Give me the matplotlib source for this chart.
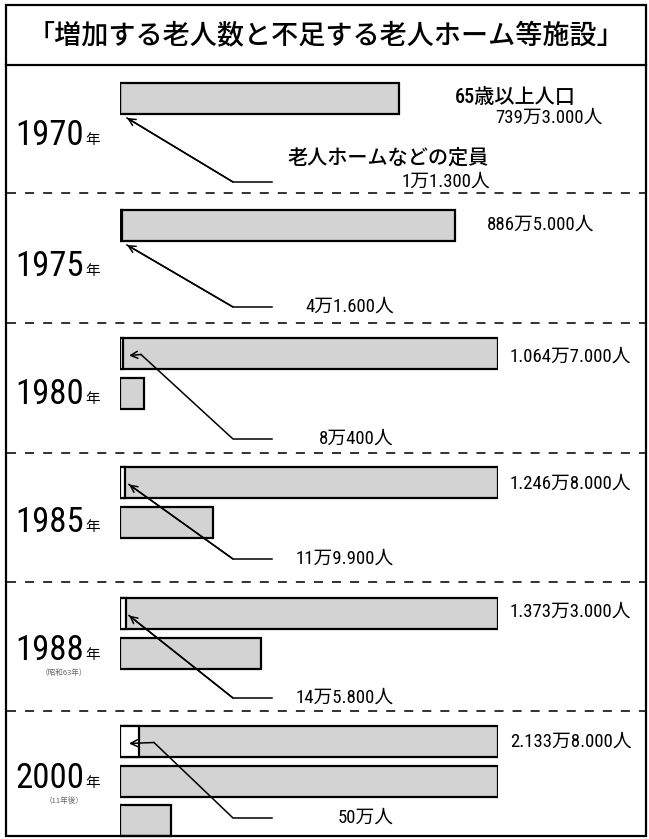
import math
import matplotlib.pyplot as plt
from matplotlib import font_manager
from matplotlib.patches import Rectangle

# data (万人)
years = ['1970', '1975', '1980', '1985', '1988', '2000']
year_notes = ['', '', '', '', '（昭和63年）', '（11年後）']
elderly = [739.3, 886.5, 1064.7, 1246.8, 1373.3, 2133.8]
capacity = [1.13, 4.16, 8.04, 11.99, 14.58, 50.0]
elderly_labels = ['739万3.000人', '886万5.000人', '1.064万7.000人',
                  '1.246万8.000人', '1.373万3.000人', '2.133万8.000人']
capacity_labels = ['1万1.300人', '4万1.600人', '8万400人',
                   '11万9.900人', '14万5.800人', '50万人']
row_max = 1000  # one full bar row = 1000万人

title = '「増加する老人数と不足する老人ホーム等施設」'

# layout (pixels from top)
W, H = 649, 839
bar_x0, bar_x1 = 120, 498
section_top = [83, 210, 338, 467, 598, 726]
row_pitch, row_h = 39.5, 31
dividers = [193, 323, 453, 582, 711]
year_base = [145, 276, 404, 532, 660, 788]
elbow_y = [182, 307, 439, 559, 698, 818]
knee_dx = [0, 0, 12, 0, 0, 25]
val_pos = [(603, 118, 'right'), (487, 225, 'left'), (510, 357, 'left'),
           (510, 484, 'left'), (510, 612, 'left'), (510, 742, 'left')]

# narrowest latin font that is available
installed = {f.name for f in font_manager.fontManager.ttflist}
latin = 'Liberation Sans'
for cand in ['Liberation Sans Narrow', 'Roboto Condensed', 'Open Sans Condensed',
             'DejaVu Sans Condensed']:
    if cand in installed:
        latin = cand
        break
narrow = latin != 'Liberation Sans'

num_font = [latin, 'Noto Sans CJK JP', 'DejaVu Sans']
jp_font = ['Noto Sans CJK JP', 'DejaVu Sans']
fill = '#d3d3d3'

fig = plt.figure(figsize=(W / 100, H / 100), dpi=100)
fig.patch.set_facecolor('white')

# bar axes: x in 万人, y in pixels
axb = fig.add_axes([bar_x0 / W, 0, (bar_x1 - bar_x0) / W, 1])
axb.set_xlim(0, row_max)
axb.set_ylim(H, 0)
axb.axis('off')
axb.set_zorder(1)

# canvas axes in pixels for frame, text and arrows
ax = fig.add_axes([0, 0, 1, 1])
ax.set_xlim(0, W)
ax.set_ylim(H, 0)
ax.axis('off')
ax.patch.set_visible(False)
ax.set_zorder(2)

ax.add_patch(Rectangle((6, 5), 640, 831, fill=False, lw=1.6, ec='black'))
ax.plot([6, 646], [65, 65], color='black', lw=1.6)
ax.text(326, 37, title, family=jp_font, fontsize=19.5, ha='center', va='center',
        fontweight='medium')
for y in dividers:
    ax.plot([7, 645], [y, y], color='#222222', lw=1.3, ls=(0, (5, 5)))

px_per = (bar_x1 - bar_x0) / row_max

for i, yr in enumerate(years):
    v = elderly[i]
    rows = math.ceil(v / row_max)
    for r in range(rows):
        w = min(row_max, v - r * row_max)
        yc = section_top[i] + r * row_pitch + row_h / 2
        axb.barh(yc, w, height=row_h, left=0, color=fill, edgecolor='black', lw=1.6)
    # nursing home capacity as the white part of the first row
    yc0 = section_top[i] + row_h / 2
    axb.barh(yc0, capacity[i], height=row_h, left=0, color='white',
             edgecolor='black', lw=1.6)

    # year label
    ax.text(84, year_base[i], yr, family=num_font, fontsize=25 if narrow else 21,
            ha='right', va='baseline')
    ax.text(85, year_base[i] - 1, '年', family=jp_font, fontsize=10.5,
            ha='left', va='baseline')
    if year_notes[i]:
        ax.text(64, year_base[i] + 13, year_notes[i], family=jp_font,
                fontsize=5.5, ha='center', va='center', color='#666666')

    # arrow from the capacity part to its label
    if i < 2:
        tip = (bar_x0 + 7, section_top[i] + row_h + 4)
    else:
        tip = (bar_x0 + 9, section_top[i] + row_h / 2 + 2)
    knee = (tip[0] + knee_dx[i], tip[1] - (1 if knee_dx[i] else 0))
    ax.plot([knee[0], 233, 272], [knee[1], elbow_y[i], elbow_y[i]],
            color='black', lw=1.1)
    ax.annotate('', xy=tip, xytext=knee if knee_dx[i] else (233, elbow_y[i]),
                arrowprops=dict(arrowstyle='->,head_length=0.5,head_width=0.25',
                                color='black', lw=1.1, shrinkA=0, shrinkB=0))

    # value labels
    vx, vy, ha = val_pos[i]
    ax.text(vx, vy, elderly_labels[i], family=num_font, fontsize=13.5,
            ha=ha, va='center')
    lx = 490 if i == 0 else 394
    ax.text(lx, elbow_y[i], capacity_labels[i], family=num_font,
            fontsize=13.5, ha='right', va='center')

ax.text(455, 97, '65歳以上人口', family=num_font, fontsize=14.5, ha='left',
        va='center', fontweight='medium')
ax.text(287, 158, '老人ホームなどの定員', family=jp_font, fontsize=14.5,
        ha='left', va='center', fontweight='medium')

fig.savefig('out.png', dpi=100, facecolor='white')
